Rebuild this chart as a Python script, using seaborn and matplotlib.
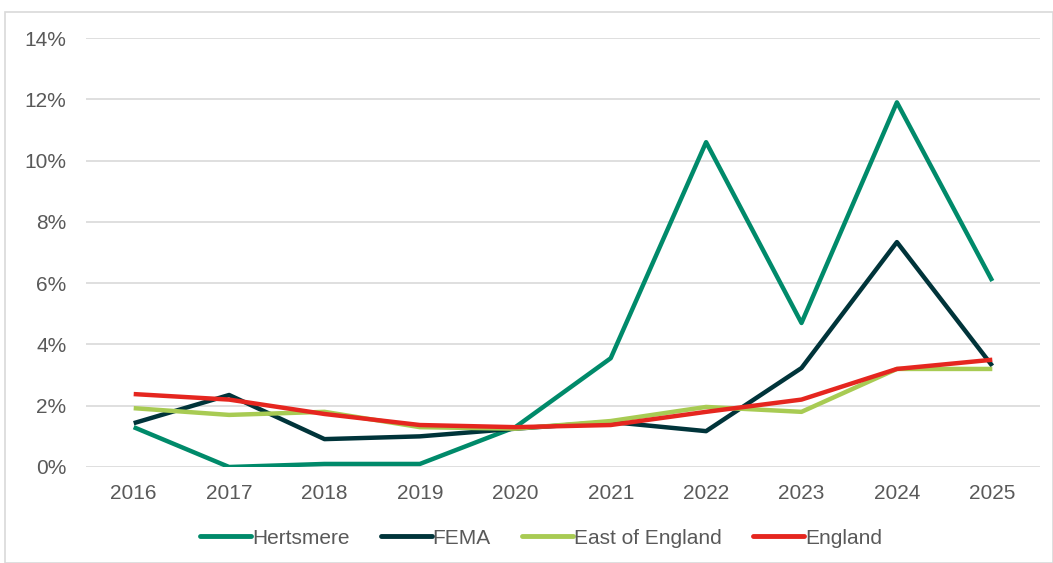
import matplotlib
matplotlib.use("Agg")
import matplotlib.pyplot as plt
import matplotlib.patches as mpatches
import seaborn as sns
import pandas as pd

years = [2016, 2017, 2018, 2019, 2020, 2021, 2022, 2023, 2024, 2025]
hertsmere = [1.3, 0.0, 0.1, 0.1, 1.3, 3.55, 10.6, 4.7, 11.9, 6.07]
fema = [1.43, 2.35, 0.91, 1.0, 1.25, 1.47, 1.17, 3.23, 7.34, 3.3]
east_of_england = [1.92, 1.7, 1.8, 1.3, 1.25, 1.5, 1.96, 1.8, 3.2, 3.2]
england = [2.38, 2.2, 1.73, 1.37, 1.3, 1.37, 1.8, 2.2, 3.2, 3.5]

series_names = ["Hertsmere", "FEMA", "East of England", "England"]
series_colors = ["#008A6A", "#00343A", "#A8CB53", "#E5261F"]

df = pd.concat([
    pd.DataFrame({"year": years, "value": vals, "area": name})
    for name, vals in zip(series_names, [hertsmere, fema, east_of_england, england])
])

sns.set_theme(style="white")
plt.rcParams["font.family"] = ["Liberation Sans", "DejaVu Sans"]

fig = plt.figure(figsize=(10.53, 5.63), dpi=100)
ax = fig.add_axes([86 / 1053, 1 - 467 / 563, (1040 - 86) / 1053, (467 - 38) / 563])

# outer chart frame
fig.patches.append(mpatches.Rectangle((5 / 1053, 0.5 / 563), 1 - 5 / 1053, 1 - 12.5 / 563,
                                      transform=fig.transFigure, fill=False,
                                      edgecolor="#D9D9D9", linewidth=1.2))

sns.lineplot(data=df, x="year", y="value", hue="area", hue_order=series_names,
             palette=series_colors, linewidth=3.2, ax=ax, legend=False,
             solid_capstyle="butt")

ax.set_xlim(2015.5, 2025.5)
ax.set_ylim(0, 14)
ax.set_yticks(range(0, 15, 2))
ax.set_yticklabels([f"{v}%" for v in range(0, 15, 2)])
ax.set_xticks(years)
ax.set_xticklabels([str(y) for y in years])
ax.yaxis.grid(True, color="#D9D9D9", linewidth=1.2)
ax.xaxis.grid(False)
ax.set_axisbelow(True)
for s in ax.spines.values():
    s.set_visible(False)
ax.tick_params(axis="both", length=0, labelsize=15, colors="#595959")
ax.tick_params(axis="y", pad=14)
ax.tick_params(axis="x", pad=12)
ax.set_xlabel("")
ax.set_ylabel("")

handles = [plt.Line2D([], [], color=c, linewidth=3.5, solid_capstyle="round") for c in series_colors]
leg = fig.legend(handles, series_names, loc="center", bbox_to_anchor=(541 / 1053, 1 - 538 / 563),
                 ncol=4, frameon=False, fontsize=15, handlelength=2.45, handletextpad=0.05,
                 columnspacing=1.5)
for t in leg.get_texts():
    t.set_color("#595959")

fig.savefig("out.png", dpi=100)
